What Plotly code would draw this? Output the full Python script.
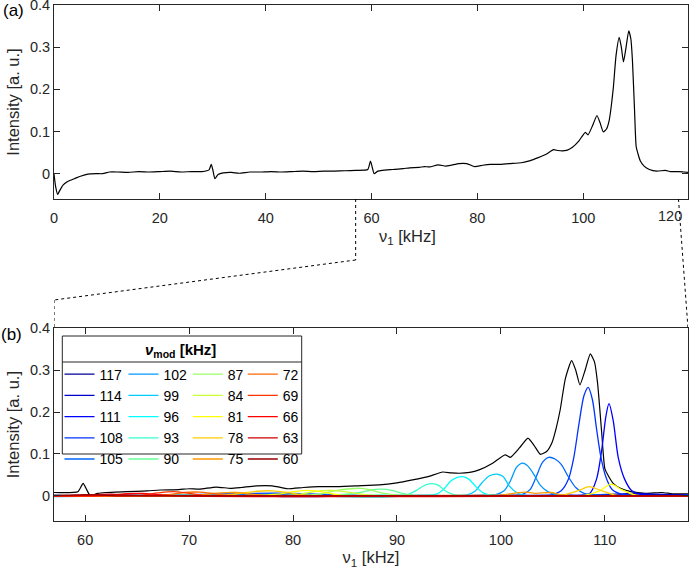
import plotly.graph_objects as go

# ---------------- data ----------------
nu1_full = [0.0, 0.3, 0.7, 1.0, 1.7, 2.5, 3.0, 4.0, 5.0, 6.4, 8.0, 9.2, 10.5, 12, 14, 16, 18, 20,
            22, 24, 26, 28, 29.3, 29.7, 30.0, 30.4, 31.0, 32.0, 33.5, 35, 37, 39, 41, 43, 45, 47,
            49, 51, 53, 55, 57, 59.3, 59.8, 60.2, 60.5, 61.2, 62, 64, 66, 67.2, 69, 70, 71, 72.6,
            74, 75, 76.5, 78, 79.5, 81, 82.5, 84, 86, 88.3, 90, 91.5, 93, 94.4, 95.2, 96, 97,
            97.9, 99.2, 100.4, 100.9, 101.8, 102.6, 103.2, 103.8, 104.4, 104.9, 105.3, 105.7,
            106.2, 106.8, 107.2, 107.6, 108.1, 108.6, 109.0, 109.3, 109.7, 110.0, 110.4, 110.8,
            111.5, 112.5, 113.9, 115.5, 116.5, 118, 119, 120]
intensity_full = [0.000, -0.030, -0.049, -0.042, -0.027, -0.019, -0.016, -0.011, -0.006, -0.001,
                  0.000, 0.000, 0.004, 0.004, 0.003, 0.005, 0.004, 0.005, 0.006, 0.004, 0.005,
                  0.005, 0.009, 0.022, 0.010, -0.012, -0.002, 0.002, 0.003, 0.001, 0.004, 0.004,
                  0.005, 0.004, 0.005, 0.006, 0.005, 0.006, 0.006, 0.007, 0.008, 0.010, 0.030,
                  0.012, 0.000, 0.006, 0.008, 0.010, 0.012, 0.014, 0.015, 0.017, 0.016, 0.021,
                  0.018, 0.020, 0.024, 0.024, 0.017, 0.020, 0.022, 0.022, 0.024, 0.026, 0.031,
                  0.038, 0.046, 0.057, 0.055, 0.054, 0.056, 0.062, 0.078, 0.098, 0.092, 0.115,
                  0.138, 0.120, 0.099, 0.106, 0.126, 0.160, 0.205, 0.280, 0.323, 0.300, 0.265,
                  0.300, 0.339, 0.320, 0.269, 0.150, 0.065, 0.045, 0.030, 0.018, 0.010, 0.006,
                  0.008, 0.005, 0.005, 0.004, 0.003]

nu_mod = [117, 114, 111, 108, 105, 102, 99, 96, 93, 90, 87, 84, 81, 78, 75, 72, 69, 66, 63, 60]

mod117_nu1 = [57, 62, 68, 75, 80, 86, 92, 98, 104, 110, 114, 118]
mod117_int = [0.001, -0.001, 0.000, 0.001, -0.002, 0.000, -0.001, 0.001, 0.000, 0.002, 0.003, 0.002]
mod114_nu1 = [57, 63, 70, 78, 85, 93, 100, 106, 111, 113, 115, 118]
mod114_int = [0.000, 0.001, -0.001, 0.001, 0.000, -0.001, 0.001, 0.000, 0.004, 0.006, 0.004, 0.002]
mod111_nu1 = [57, 65, 75, 80, 90, 100, 106, 108.5, 109.2, 109.7, 110.1, 110.4, 110.8, 111.3,
              111.9, 112.6, 113.5, 118]
mod111_int = [0.000, 0.001, 0.000, 0.004, 0.000, 0.001, 0.002, 0.005, 0.040, 0.110, 0.190, 0.220,
              0.180, 0.090, 0.040, 0.012, 0.003, 0.001]
mod108_nu1 = [57, 68, 79.5, 81, 90, 100, 104, 105.0, 105.8, 106.5, 107.0, 107.5, 108.0, 108.4,
              108.8, 109.2, 109.6, 110.1, 110.7, 111.6, 118]
mod108_int = [0.000, 0.002, 0.006, 0.001, 0.000, 0.001, 0.001, 0.003, 0.012, 0.040, 0.090, 0.170,
              0.240, 0.259, 0.230, 0.160, 0.095, 0.045, 0.015, 0.004, 0.001]
mod105_nu1 = [57, 70, 78, 80, 85, 95, 102.0, 102.8, 103.4, 104.0, 104.6, 105.2, 105.8, 106.5,
              107.2, 108.0, 110, 118]
mod105_int = [0.001, 0.000, 0.005, 0.006, 0.001, 0.000, 0.003, 0.015, 0.046, 0.080, 0.092, 0.088,
              0.075, 0.045, 0.020, 0.006, 0.002, 0.000]
mod102_nu1 = [57, 66, 74, 84, 92, 99.5, 100.3, 100.9, 101.5, 102.1, 102.6, 103.2, 103.8, 104.5,
              105.3, 110, 118]
mod102_int = [-0.002, 0.000, 0.002, 0.000, 0.001, 0.003, 0.012, 0.035, 0.068, 0.078, 0.071, 0.050,
              0.025, 0.010, 0.003, 0.000, 0.000]
mod99_nu1 = [57, 65, 75, 85, 92, 96.8, 97.5, 98.2, 98.9, 99.6, 100.2, 100.8, 101.5, 102.2, 108, 118]
mod99_int = [0.000, 0.001, -0.001, 0.000, 0.001, 0.003, 0.011, 0.032, 0.048, 0.052, 0.046, 0.024,
             0.008, 0.002, 0.000, 0.000]
mod96_nu1 = [57, 70, 80, 88, 91, 93.8, 94.5, 95.2, 95.8, 96.3, 96.9, 97.6, 98.3, 99.0, 105, 118]
mod96_int = [0.000, 0.000, 0.001, -0.003, 0.000, 0.004, 0.016, 0.036, 0.044, 0.046, 0.040, 0.022,
             0.007, 0.002, 0.000, 0.000]
mod93_nu1 = [57, 70, 80, 88, 91.0, 91.8, 92.5, 93.0, 93.4, 94.0, 94.6, 95.3, 96, 105, 118]
mod93_int = [0.000, 0.001, 0.000, 0.002, 0.003, 0.012, 0.023, 0.028, 0.029, 0.025, 0.013, 0.004,
             0.001, 0.000, 0.000]
mod90_nu1 = [57, 70, 80, 84, 86.5, 87.5, 88.5, 89.5, 90.5, 91.5, 95, 118]
mod90_int = [0.000, 0.001, 0.000, 0.002, 0.008, 0.014, 0.016, 0.013, 0.006, 0.002, 0.000, 0.000]
mod87_nu1 = [57, 70, 80, 82.5, 84, 85.5, 86.5, 87.5, 88.5, 90, 95, 118]
mod87_int = [0.000, 0.000, 0.001, 0.004, 0.012, 0.017, 0.018, 0.014, 0.007, 0.002, 0.000, 0.000]
mod84_nu1 = [57, 70, 78, 80.5, 82, 83.5, 85, 86.5, 88, 95, 118]
mod84_int = [0.000, 0.001, 0.000, 0.003, 0.010, 0.013, 0.010, 0.004, 0.001, 0.000, 0.000]
mod81_nu1 = [57, 70, 76, 78.5, 80, 81.5, 83, 84.5, 90, 100, 108, 109.5, 110.6, 111.6, 113, 118]
mod81_int = [0.000, 0.000, 0.001, 0.004, 0.010, 0.013, 0.009, 0.002, 0.000, 0.000, 0.001, 0.012,
             0.028, 0.015, 0.002, 0.000]
mod78_nu1 = [57, 70, 73, 75, 76.5, 78, 79.5, 81, 90, 100, 106, 107.5, 108.5, 109.5, 111, 118]
mod78_int = [0.000, 0.000, 0.001, 0.006, 0.011, 0.012, 0.008, 0.002, 0.000, 0.001, 0.002, 0.013,
             0.022, 0.014, 0.002, 0.000]
mod75_nu1 = [57, 68, 71, 73, 74.5, 76, 78, 90, 100, 101.5, 102.4, 103.3, 104.8, 106, 118]
mod75_int = [0.000, 0.000, 0.002, 0.007, 0.008, 0.004, 0.000, 0.000, 0.002, 0.007, 0.009, 0.006,
             0.008, 0.002, 0.000]
mod72_nu1 = [57, 66, 68, 69.5, 71, 72.5, 74, 80, 95, 118]
mod72_int = [0.000, 0.000, 0.003, 0.008, 0.009, 0.005, 0.001, 0.000, 0.001, 0.000]
mod69_nu1 = [57, 63, 65.5, 67, 68.5, 70, 71.5, 75, 118]
mod69_int = [0.000, 0.000, 0.002, 0.007, 0.010, 0.006, 0.001, 0.000, 0.000]
mod66_nu1 = [57, 60, 62.5, 64, 65.5, 67, 69, 118]
mod66_int = [0.000, 0.000, 0.002, 0.005, 0.006, 0.003, 0.000, 0.000]
mod63_nu1 = [57, 59.5, 61, 62.5, 64, 66, 118]
mod63_int = [0.000, 0.001, 0.003, 0.004, 0.002, 0.000, 0.000]
mod60_nu1 = [57, 58.5, 60, 61.5, 63, 118]
mod60_int = [0.001, 0.002, 0.003, 0.002, 0.000, 0.000]

top_xrange = [0, 119.8]
zoom_xrange = [57, 118]
y_range = [-0.06, 0.4]
top_xticks = [0, 20, 40, 60, 80, 100]
bottom_xticks = [60, 70, 80, 90, 100, 110]
y_ticks = [0, 0.1, 0.2, 0.3, 0.4]
y_ticktext = ["0", "0.1", "0.2", "0.3", "0.4"]

# ---------------- styles ----------------
jet20 = ["rgb(0,0,153)", "rgb(0,0,204)", "rgb(0,0,255)", "rgb(0,51,255)", "rgb(0,102,255)",
         "rgb(0,153,255)", "rgb(0,204,255)", "rgb(0,255,255)", "rgb(51,255,204)", "rgb(102,255,153)",
         "rgb(153,255,102)", "rgb(204,255,51)", "rgb(255,255,0)", "rgb(255,204,0)", "rgb(255,153,0)",
         "rgb(255,102,0)", "rgb(255,51,0)", "rgb(255,0,0)", "rgb(204,0,0)", "rgb(153,0,0)"]

series = {
    117: (mod117_nu1, mod117_int), 114: (mod114_nu1, mod114_int), 111: (mod111_nu1, mod111_int),
    108: (mod108_nu1, mod108_int), 105: (mod105_nu1, mod105_int), 102: (mod102_nu1, mod102_int),
    99: (mod99_nu1, mod99_int), 96: (mod96_nu1, mod96_int), 93: (mod93_nu1, mod93_int),
    90: (mod90_nu1, mod90_int), 87: (mod87_nu1, mod87_int), 84: (mod84_nu1, mod84_int),
    81: (mod81_nu1, mod81_int), 78: (mod78_nu1, mod78_int), 75: (mod75_nu1, mod75_int),
    72: (mod72_nu1, mod72_int), 69: (mod69_nu1, mod69_int), 66: (mod66_nu1, mod66_int),
    63: (mod63_nu1, mod63_int), 60: (mod60_nu1, mod60_int),
}

W, H = 689, 571
ML, MR = 54, 1
PW = W - ML - MR
FONT = "Liberation Sans, Arial, Helvetica, sans-serif"
AX = "#262626"


def py(px):
    """pixel row -> paper y"""
    return 1 - px / H


def pxx(px):
    """pixel column -> paper x"""
    return (px - ML) / PW


fig = go.Figure()

# black spectrum in both panels
fig.add_trace(go.Scatter(x=nu1_full, y=intensity_full, mode="lines", xaxis="x", yaxis="y",
                         line=dict(color="black", width=1.2, shape="spline", smoothing=0.5),
                         showlegend=False, hoverinfo="skip"))
fig.add_trace(go.Scatter(x=nu1_full, y=intensity_full, mode="lines", xaxis="x2", yaxis="y2",
                         line=dict(color="black", width=1.2, shape="spline", smoothing=0.5),
                         showlegend=False, hoverinfo="skip"))

legend_names = ["legend", "legend2", "legend3", "legend4"]
for i, nm in enumerate(nu_mod):
    xs, ys = series[nm]
    fig.add_trace(go.Scatter(x=xs, y=ys, mode="lines", xaxis="x2", yaxis="y2", name=str(nm),
                             line=dict(color=jet20[i], width=1.3, shape="spline", smoothing=0.8),
                             legend=legend_names[i // 5]))

axis_common = dict(showline=True, linecolor=AX, linewidth=1, mirror="ticks", ticks="inside",
                   ticklen=6, tickcolor=AX, tickwidth=1, showgrid=False, zeroline=False,
                   automargin=False, ticklabeloverflow="allow",
                   tickfont=dict(family=FONT, size=14.5, color=AX))

top_dom = [py(199), py(5)]
bot_dom = [py(521), py(328.3)]

fig.update_layout(
    template="none",
    width=W, height=H, margin=dict(l=ML, r=MR, t=0, b=0, autoexpand=False),
    paper_bgcolor="white", plot_bgcolor="white",
    font=dict(family=FONT, color=AX, size=14),
    xaxis=dict(domain=[0, 1], anchor="y", range=top_xrange, tickvals=top_xticks,
               ticklabelstandoff=6, **axis_common),
    yaxis=dict(domain=top_dom, anchor="x", range=y_range, tickvals=y_ticks, ticktext=y_ticktext,
               title=dict(text="Intensity [a. u.]", font=dict(family=FONT, size=16.5, color=AX),
                          standoff=6),
               **axis_common),
    xaxis2=dict(domain=[0, 1], anchor="y2", range=zoom_xrange, tickvals=bottom_xticks,
                ticklabelstandoff=6,
                title=dict(text="ν<sub>1</sub> [kHz]", font=dict(family=FONT, size=16.5, color=AX),
                           standoff=4),
                **axis_common),
    yaxis2=dict(domain=bot_dom, anchor="x2", range=y_range, tickvals=y_ticks, ticktext=y_ticktext,
                title=dict(text="Intensity [a. u.]", font=dict(family=FONT, size=16.5, color=AX),
                           standoff=6),
                **axis_common),
    showlegend=True,
)

leg_common = dict(orientation="v", bgcolor="rgba(0,0,0,0)", borderwidth=0, yanchor="top",
                  xanchor="left", font=dict(family=FONT, size=14, color="black"),
                  tracegroupgap=0, itemwidth=30, y=py(358.6))
leg_x = [pxx(59.5), pxx(123.5), pxx(187.8), pxx(242.8)]
fig.update_layout(
    legend=dict(x=leg_x[0], **leg_common),
    legend2=dict(x=leg_x[1], **leg_common),
    legend3=dict(x=leg_x[2], **leg_common),
    legend4=dict(x=leg_x[3], **leg_common),
)

# legend box, title separator
shapes = [
    dict(type="rect", xref="paper", yref="paper", x0=pxx(62.3), x1=pxx(301.7), y0=py(454),
         y1=py(336), fillcolor="white", line=dict(color=AX, width=1), layer="above"),
    dict(type="line", xref="paper", yref="paper", x0=pxx(62.3), x1=pxx(301.7), y0=py(362),
         y1=py(362), line=dict(color=AX, width=1), layer="above"),
    # zoom connectors (dotted)
    dict(type="line", xref="x", yref="paper", x0=zoom_xrange[0], x1=zoom_xrange[0], y0=py(199),
         y1=py(260), line=dict(color="black", width=1, dash="dot")),
    dict(type="line", xref="x", yref="paper", x0=zoom_xrange[0], x1=top_xrange[0], y0=py(260),
         y1=py(300), line=dict(color="black", width=1, dash="dot")),
    dict(type="line", xref="x", yref="paper", x0=top_xrange[0], x1=top_xrange[0], y0=py(300),
         y1=py(328.3), line=dict(color="black", width=1, dash="dot")),
    dict(type="line", xref="x", yref="paper", x0=zoom_xrange[1], x1=top_xrange[1], y0=py(199),
         y1=py(328.3), line=dict(color="black", width=1, dash="dot")),
]
fig.update_layout(shapes=shapes)

annotations = [
    dict(text="(a)", xref="paper", yref="paper", x=pxx(13), y=py(11), showarrow=False,
         xanchor="center", yanchor="middle", font=dict(family=FONT, size=17, color="black")),
    dict(text="(b)", xref="paper", yref="paper", x=pxx(11), y=py(334), showarrow=False,
         xanchor="center", yanchor="middle", font=dict(family=FONT, size=17, color="black")),
    dict(text="120", xref="paper", yref="paper", x=pxx(670), y=py(215.7), showarrow=False,
         xanchor="center", yanchor="middle", font=dict(family=FONT, size=14.5, color=AX)),
    dict(text="ν<sub>1</sub> [kHz]", xref="paper", yref="paper", x=pxx(407), y=py(237),
         showarrow=False, xanchor="center", yanchor="middle",
         font=dict(family=FONT, size=16.5, color=AX)),
    dict(text="<b><i>ν</i><sub>mod</sub> [kHz]</b>", xref="paper", yref="paper", x=pxx(180),
         y=py(350), showarrow=False, xanchor="center", yanchor="middle",
         font=dict(family=FONT, size=15, color="black")),
]
fig.update_layout(annotations=annotations)

fig.write_html("out.html", config={"displayModeBar": False},
               post_script="document.body.style.margin='0';"
                           "document.body.style.overflow='hidden';")
